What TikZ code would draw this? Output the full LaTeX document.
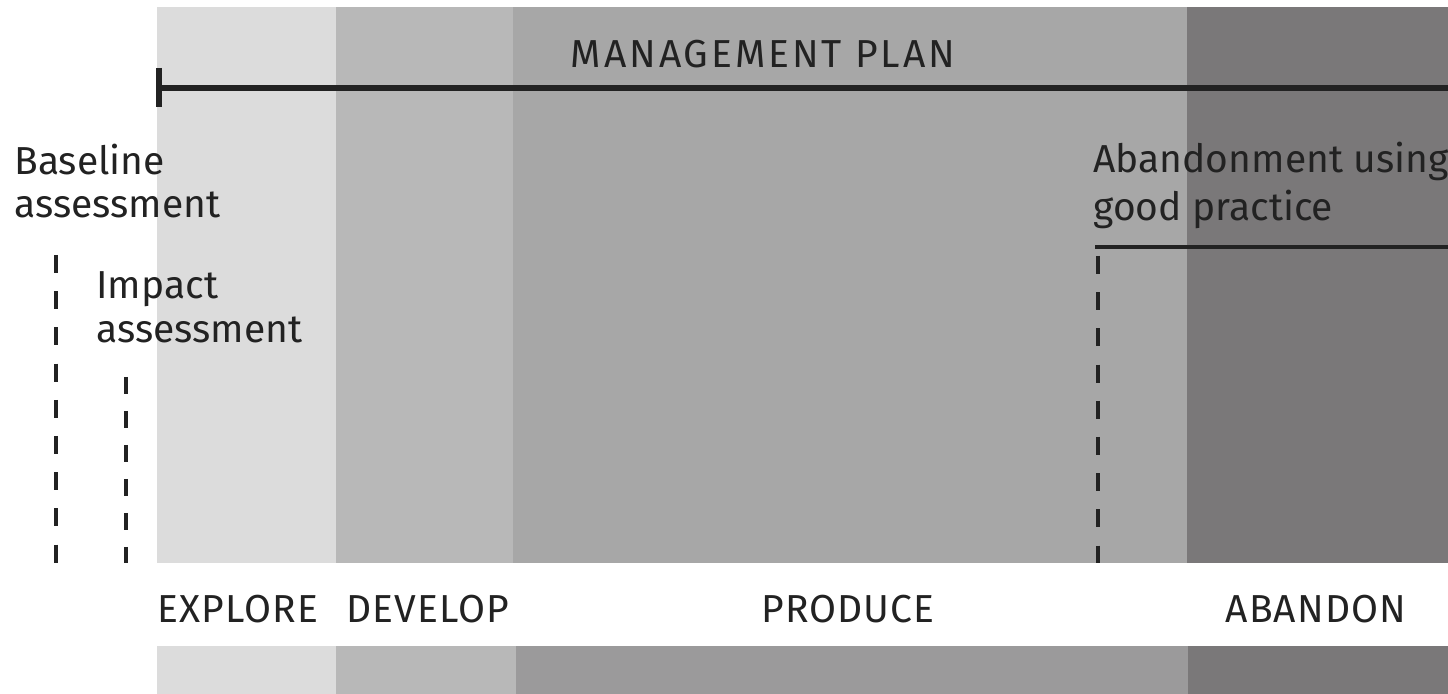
\documentclass[tikz,border=0pt]{standalone}
\usepackage{fontspec}
\setmainfont{Fira Sans}
\definecolor{cexplore}{HTML}{DCDCDC}
\definecolor{cdevelop}{HTML}{B8B8B8}
\definecolor{cproduce}{HTML}{A7A7A7}
\definecolor{cproducelow}{HTML}{9B9A9B}
\definecolor{cabandon}{HTML}{7A7879}
\definecolor{ink}{HTML}{222222}
\begin{document}
\begin{tikzpicture}[x=0.5pt,y=-0.5pt,
  lbl/.style={inner sep=0pt, text=ink, font=\fontsize{19.5}{21.5}\selectfont},
  caplbl/.style={inner sep=0pt, text=ink, font=\fontsize{19.5}{21}\selectfont\addfontfeature{LetterSpace=3}},
  rule/.style={draw=ink, line width=2.6pt},
  dashline/.style={draw=ink, line width=2pt, dash pattern=on 9pt off 9.1pt}]
\useasboundingbox (0,0) rectangle (1448,694);
% upper bands
\fill[cexplore] (157,7) rectangle (336,563);
\fill[cdevelop] (336,7) rectangle (513,563);
\fill[cproduce] (513,7) rectangle (1187,563);
\fill[cabandon] (1187,7) rectangle (1448,563);
% lower bands
\fill[cexplore] (157,646) rectangle (336,694);
\fill[cdevelop] (336,646) rectangle (516,694);
\fill[cproducelow] (516,646) rectangle (1188,694);
\fill[cabandon] (1188,646) rectangle (1448,694);
% management plan
\node[caplbl, anchor=base, font=\fontsize{19.5}{21}\selectfont\addfontfeature{LetterSpace=7.5}] (mp) at (763,68) {MANAGEMENT PLAN};
\coordinate (mpL) at (159,88);
\coordinate (mpR) at (1448,88);
\coordinate (tickT) at (159,68);
\coordinate (tickB) at (159,107);
\draw[rule] (mpL) -- (mpR);
\draw[draw=ink, line width=3.4pt] (tickT) -- (tickB);
% baseline assessment
\node[lbl, anchor=base west] (bl1) at (14,175) {Baseline};
\node[lbl, anchor=base west] (bl2) at (14,218) {assessment};
\coordinate (d1T) at (55.5,255);
\coordinate (d1B) at (55.5,563);
\draw[dashline, dash pattern=on 9pt off 9.1pt] (d1T) -- (d1B);
% impact assessment
\node[lbl, anchor=base west] (ia1) at (96,299) {Impact};
\node[lbl, anchor=base west] (ia2) at (96,343) {assessment};
\coordinate (d2T) at (126,377);
\coordinate (d2B) at (126,563);
\draw[dashline, dash pattern=on 8.5pt off 8.5pt] (d2T) -- (d2B);
% abandonment
\begin{scope}
\clip (0,0) rectangle (1448,694);
\node[lbl, anchor=base west] (ab1) at (1093,173) {Abandonment using};
\node[lbl, anchor=base west] (ab2) at (1093,221) {good practice};
\end{scope}
\coordinate (abL) at (1095,247);
\coordinate (abR) at (1448,247);
\draw[rule, line width=2pt] (abL) -- (abR);
\coordinate (d3T) at (1097.5,256);
\coordinate (d3B) at (1097.5,563);
\draw[dashline] (d3T) -- (d3B);
% phase labels
\node[caplbl, anchor=base west] (explore) at (157,623) {EXPLORE};
\node[caplbl, anchor=base west] (develop) at (346,623) {DEVELOP};
\node[caplbl, anchor=base] (produce) at (848,623) {PRODUCE};
\node[caplbl, anchor=base] (abandon) at (1316,623) {ABANDON};
\end{tikzpicture}
\end{document}
